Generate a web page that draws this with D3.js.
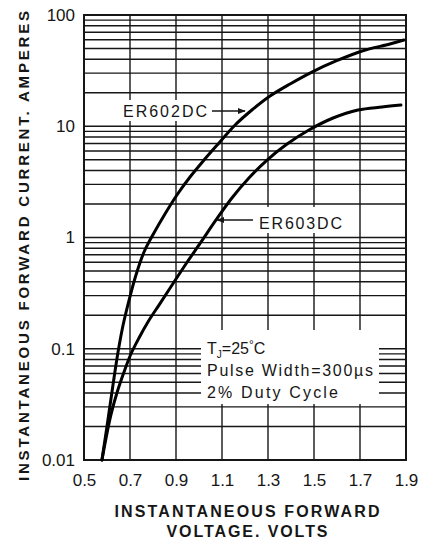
<!DOCTYPE html>
<html>
<head>
<meta charset="utf-8">
<script src="https://cdn.jsdelivr.net/npm/d3@7"></script>
<style>
  body { margin: 0; background: #fff; }
  svg { display: block; font-family: "Liberation Sans", Arial, sans-serif; }
</style>
</head>
<body>
<div id="chart"></div>
<script>
// axis ticks
const voltTicks = [0.5, 0.7, 0.9, 1.1, 1.3, 1.5, 1.7, 1.9];
const currentTicks = [0.01, 0.1, 1, 10, 100];
const currentLabels = ["0.01", "0.1", "1", "10", "100"];

// ER602DC curve (volts, amperes)
const er602Volts = [0.578, 0.604, 0.626, 0.648, 0.670, 0.696, 0.726, 0.761, 0.804, 0.852, 0.904, 0.961,
                    1.022, 1.087, 1.157, 1.230, 1.309, 1.396, 1.491, 1.596, 1.709, 1.830, 1.891];
const er602Amps  = [0.01, 0.0229, 0.0472, 0.0935, 0.1635, 0.274, 0.46, 0.741, 1.097, 1.626, 2.41, 3.5,
                    4.97, 7.07, 10.26, 14.0, 18.7, 24.0, 30.7, 38.6, 47.5, 54.9, 59.6];

// ER603DC curve
const er603Volts = [0.578, 0.596, 0.617, 0.643, 0.674, 0.704, 0.739, 0.778, 0.826, 0.883, 0.943, 1.009,
                    1.074, 1.143, 1.217, 1.296, 1.383, 1.478, 1.583, 1.691, 1.796, 1.878];
const er603Amps  = [0.01, 0.0158, 0.0254, 0.04, 0.0618, 0.0897, 0.125, 0.174, 0.247, 0.374, 0.578, 0.912,
                    1.437, 2.265, 3.43, 4.97, 6.92, 9.25, 11.86, 14.0, 14.9, 15.5];

const width = 422, height = 542;
const margin = { top: 15, right: 16, bottom: 82, left: 84 };

const svg = d3.select("#chart").append("svg")
    .attr("width", width)
    .attr("height", height);

// scales
const x = d3.scaleLinear()
    .domain([0.5, 1.9])
    .range([margin.left, width - margin.right]);

const y = d3.scaleLog()
    .domain([0.01, 100])
    .range([height - margin.bottom, margin.top]);

const ink = "#161616";

// grid
const grid = svg.append("g").attr("stroke", ink).attr("stroke-width", 1.4);

grid.selectAll(".h")
    .data(y.ticks())
    .join("line")
    .attr("x1", x(0.5)).attr("x2", x(1.9))
    .attr("y1", d => y(d)).attr("y2", d => y(d));

grid.selectAll(".v")
    .data(voltTicks.slice(1, -1))
    .join("line")
    .attr("x1", d => x(d)).attr("x2", d => x(d))
    .attr("y1", y(0.01)).attr("y2", y(100));

// white patches behind the notes
const patches = [
    [119, 100, 93, 21],
    [255, 207, 92, 26],
    [201, 330, 178, 74]
];
svg.append("g").selectAll("rect")
    .data(patches)
    .join("rect")
    .attr("x", d => d[0]).attr("y", d => d[1])
    .attr("width", d => d[2]).attr("height", d => d[3])
    .attr("fill", "#fff");

// frame
svg.append("rect")
    .attr("x", x(0.5)).attr("y", y(100))
    .attr("width", x(1.9) - x(0.5))
    .attr("height", y(0.01) - y(100))
    .attr("fill", "none")
    .attr("stroke", ink)
    .attr("stroke-width", 2);

// curves
const line = d3.line()
    .x(d => x(d[0]))
    .y(d => y(d[1]))
    .curve(d3.curveCatmullRom.alpha(0.5));

[[er602Volts, er602Amps], [er603Volts, er603Amps]].forEach(([v, a]) => {
    svg.append("path")
        .datum(v.map((d, i) => [d, a[i]]))
        .attr("d", line)
        .attr("fill", "none")
        .attr("stroke", "#000")
        .attr("stroke-width", 3)
        .attr("stroke-linecap", "round");
});

// axes (labels only)
const xAxis = svg.append("g")
    .attr("transform", `translate(0,${y(0.01) + 11})`)
    .call(d3.axisBottom(x).tickValues(voltTicks).tickFormat(d3.format(".1f")).tickSize(0));

const yAxis = svg.append("g")
    .attr("transform", `translate(${x(0.5) - 6},0)`)
    .call(d3.axisLeft(y).tickValues(currentTicks).tickFormat((d, i) => currentLabels[i]).tickSize(0));

[xAxis, yAxis].forEach(g => {
    g.select(".domain").remove();
    g.selectAll("text")
        .attr("fill", ink)
        .style("font-size", "17px")
        .style("font-family", "'Liberation Sans', Arial, sans-serif");
});

// arrow marker
svg.append("defs").append("marker")
    .attr("id", "arrow")
    .attr("viewBox", "0 0 10 10")
    .attr("refX", 9).attr("refY", 5)
    .attr("markerWidth", 7).attr("markerHeight", 6)
    .attr("orient", "auto")
    .append("path")
    .attr("d", "M0,1L10,5L0,9Z")
    .attr("fill", ink);

// curve labels
svg.append("text")
    .attr("x", 123).attr("y", 117)
    .attr("textLength", 84)
    .style("font-size", "16px")
    .attr("fill", ink)
    .text("ER602DC");

svg.append("line")
    .attr("x1", 212).attr("y1", 111).attr("x2", 245).attr("y2", 111)
    .attr("stroke", ink).attr("stroke-width", 1.3)
    .attr("marker-end", "url(#arrow)");

svg.append("text")
    .attr("x", 259).attr("y", 229)
    .attr("textLength", 83)
    .style("font-size", "16px")
    .attr("fill", ink)
    .text("ER603DC");

svg.append("line")
    .attr("x1", 253).attr("y1", 220).attr("x2", 217).attr("y2", 220)
    .attr("stroke", ink).attr("stroke-width", 1.3)
    .attr("marker-end", "url(#arrow)");

// test conditions
const note = svg.append("g")
    .attr("fill", ink)
    .style("font-size", "16px");

const tj = note.append("text").attr("x", 207).attr("y", 354);
tj.append("tspan").text("T");
tj.append("tspan").attr("dy", 4).style("font-size", "10px").text("J");
tj.append("tspan").attr("dy", -4).text("=25");
tj.append("tspan").attr("dy", -5).style("font-size", "12px").text("°");
tj.append("tspan").attr("dy", 5).text("C");

note.append("text")
    .attr("x", 207).attr("y", 376)
    .attr("textLength", 166)
    .text("Pulse Width=300µs");

note.append("text")
    .attr("x", 207).attr("y", 398)
    .attr("textLength", 131)
    .text("2% Duty Cycle");

// axis titles
svg.append("text")
    .attr("transform", "translate(29,246) rotate(-90)")
    .attr("text-anchor", "middle")
    .attr("textLength", 470)
    .style("font-size", "15px")
    .style("font-weight", "bold")
    .attr("fill", ink)
    .text("INSTANTANEOUS FORWARD CURRENT. AMPERES");

svg.append("text")
    .attr("x", 247).attr("y", 517)
    .attr("text-anchor", "middle")
    .attr("textLength", 265)
    .style("font-size", "16px")
    .style("font-weight", "bold")
    .attr("fill", ink)
    .text("INSTANTANEOUS FORWARD");

svg.append("text")
    .attr("x", 247).attr("y", 537)
    .attr("text-anchor", "middle")
    .attr("textLength", 161)
    .style("font-size", "16px")
    .style("font-weight", "bold")
    .attr("fill", ink)
    .text("VOLTAGE. VOLTS");
</script>
</body>
</html>
